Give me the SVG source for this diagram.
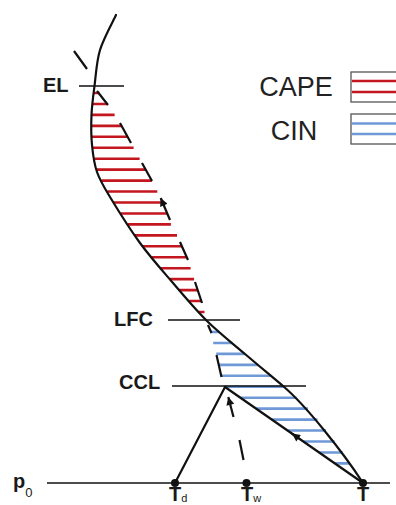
<svg xmlns="http://www.w3.org/2000/svg" width="396" height="505" viewBox="0 0 396 505">
<style>
.lbl{font-family:"Liberation Sans",Arial,sans-serif;font-weight:bold;font-size:20px;fill:#1a1a1a}
.leg{font-family:"Liberation Sans",Arial,sans-serif;font-size:27px;fill:#222}
.red{stroke:#c3161e;stroke-width:2.6;fill:none}
.blue{stroke:#6e99d6;stroke-width:2.6;fill:none}
.curve{stroke:#111;stroke-width:2.2;fill:none;stroke-linecap:round}
.lvl{stroke:#111;stroke-width:1.5;fill:none}
.dash{stroke:#111;stroke-width:2.2;fill:none;stroke-linecap:butt}
</style>
<defs>
<marker id="ah" viewBox="0 0 10 10" refX="10" refY="5" markerWidth="10" markerHeight="8" markerUnits="userSpaceOnUse" orient="auto">
<path d="M0,0 L10,5 L0,10 z" fill="#111"/>
</marker>
</defs>
<rect width="396" height="505" fill="#fff"/>

<g id="cape-hatch" class="red">
<path d="M93.8,93H99.5 M92.6,103.95H107.3 M91.5,114.9H114.6 M91.7,125.85H121.6 M91.9,136.8H127.6 M92.5,147.75H133.6 M94.5,158.7H139.6 M96.6,169.65H145.7 M101.5,180.6H151.8 M107.2,191.55H157.3 M113.6,202.5H162.6 M120.7,213.45H167.2 M127.9,224.4H170.9 M135,235.35H177 M142.7,246.3H181.9 M151.8,257.25H186.8 M160.8,268.2H190.6 M169.8,279.15H194.1 M179.4,290.1H197.7 M189.2,301.05H201.4 M199,312H204.5"/>
</g>
<g id="cin-hatch" class="blue">
<path d="M210.2,332H219.7 M213.2,342.95H232.3 M216.2,353.9H244.9 M219,364.85H257.9 M221.7,375.8H270.9 M225,386.75H283.9 M240.4,397.7H296.5 M256.1,408.65H308 M271.9,419.6H317.5 M287.6,430.55H326 M303.3,441.5H334.5 M319.1,452.45H342.8 M334.8,463.4H350"/>
</g>

<g id="levels" class="lvl">
<line x1="79" y1="86" x2="124" y2="86"/>
<line x1="168" y1="320" x2="240" y2="320"/>
<line x1="172" y1="386" x2="306" y2="386"/>
<line x1="47" y1="483" x2="390" y2="483"/>
</g>

<g id="connectors">
<path id="environment" class="curve" d="M116,15 C113.33,20.83 103.58,38.17 100,50 C96.42,61.83 95.92,75.17 94.5,86 C93.08,96.83 91.92,105.17 91.5,115 C91.08,124.83 91.08,135.5 92,145 C92.92,154.5 94,163.33 97,172 C100,180.67 102.83,185.17 110,197 C117.17,208.83 129.5,228.67 140,243 C150.5,257.33 161.83,270 173,283 C184.17,296 195,309.17 207,321 C219,332.83 232.33,343.17 245,354 C257.67,364.83 273,377.5 283,386 C306,405.5 343,452 363,483"/>
<path id="dry-adiabat" class="curve" d="M363,483 L225,387"/>
<path id="dewpoint" class="curve" d="M175,483 L225,387"/>
<path id="moist-adiabat" class="dash" d="M74,51 L87,69 M97,91 L108,105 M120,123 L131,143 M142,163 L152,181 M180,242 L188,260 M195,282 L202,303 M208,325 L211.5,333 M216.5,355 L221.5,377"/>
<path id="wetbulb" class="dash" d="M243.5,460 L239.5,440"/>
<path class="dash" d="M170,220 L160.7,198" marker-end="url(#ah)"/>
<path class="dash" d="M233.5,417 L228.3,397" marker-end="url(#ah)"/>
<path class="dash" d="M299,438.5 L292,433.6" marker-end="url(#ah)"/>
</g>

<g id="points" fill="#111">
<circle cx="175" cy="483" r="4"/>
<circle cx="246.5" cy="483" r="4"/>
<circle cx="363" cy="483" r="4"/>
</g>

<g id="legend">
<rect x="351" y="72" width="60" height="30" fill="#fff" stroke="#555" stroke-width="1.3"/>
<line x1="352" y1="81" x2="396" y2="81" class="red"/>
<line x1="352" y1="92" x2="396" y2="92" class="red"/>
<rect x="351" y="114" width="60" height="30" fill="#fff" stroke="#555" stroke-width="1.3"/>
<line x1="352" y1="123.5" x2="396" y2="123.5" class="blue"/>
<line x1="352" y1="134" x2="396" y2="134" class="blue"/>
<text class="leg" x="296" y="96" text-anchor="middle">CAPE</text>
<text class="leg" x="294" y="139.5" text-anchor="middle">CIN</text>
</g>

<g id="labels">
<text class="lbl" x="169" y="501">T<tspan font-size="11" font-weight="normal" dy="1">d</tspan></text>
<text class="lbl" x="241" y="501">T<tspan font-size="11" font-weight="normal" dy="1">w</tspan></text>
<text class="lbl" x="357" y="501">T</text>
<text class="lbl" x="43" y="92">EL</text>
<text class="lbl" x="114" y="326">LFC</text>
<text class="lbl" x="119" y="389">CCL</text>
<text class="lbl" x="13" y="488">p<tspan font-size="13" font-weight="normal" dy="9">0</tspan></text>
</g>
</svg>
